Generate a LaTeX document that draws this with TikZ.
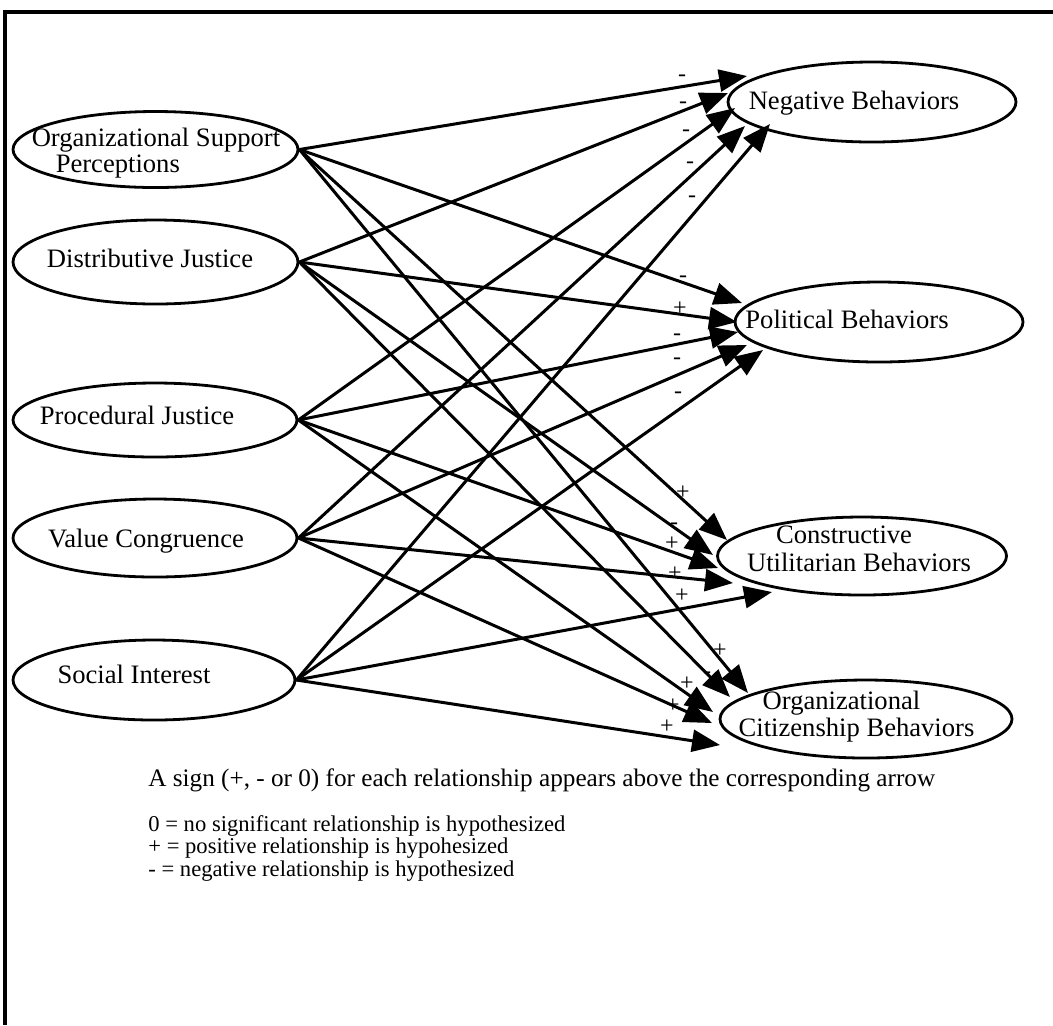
\documentclass[tikz,border=0pt]{standalone}
\usepackage{fontspec}
\setmainfont{Liberation Serif}
\usetikzlibrary{shapes.geometric,arrows.meta}
\begin{document}
\begin{tikzpicture}[x=0.5pt,y=-0.5pt,
  box/.style={ellipse,draw,line width=1.4pt,inner sep=0pt},
  lbl/.style={font=\fontsize{13.3pt}{10.5pt}\selectfont,inner sep=0pt,text height=0.7em,text depth=0.2em},
  sg/.style={font=\fontsize{12pt}{12pt}\selectfont,inner sep=0pt,text height=0.7em,text depth=0.2em},
  arr/.style={line width=1.5pt,-{Triangle[length=14pt,width=11pt]}},
  note/.style={font=\fontsize{12.6pt}{10pt}\selectfont,inner sep=0pt,anchor=west,text height=0.7em,text depth=0.2em}]

\useasboundingbox (0,0) rectangle (1053,1025);
\draw[line width=2pt] (1053,12) -- (5,12) -- (5,1025);

% left nodes
\node[box,minimum width=142.5pt,minimum height=38pt] (osp) at (155.5,149.5) {};
\node[box,minimum width=142.5pt,minimum height=42pt] (dj) at (155.5,262) {};
\node[box,minimum width=142pt,minimum height=37pt] (pj) at (155,420) {};
\node[box,minimum width=142pt,minimum height=39pt] (vc) at (155,538) {};
\node[box,minimum width=141pt,minimum height=40pt] (si) at (154,680) {};

\node[lbl,align=left,text height=,text depth=] (ospt) at (156,153) {Organizational Support\\\hspace*{12pt}Perceptions};
\node[lbl] (djt) at (150,262) {Distributive Justice};
\node[lbl] (pjt) at (137,419) {Procedural Justice};
\node[lbl] (vct) at (146,542) {Value Congruence};
\node[lbl] (sit) at (134,678) {Social Interest};

% right nodes
\node[box,minimum width=144pt,minimum height=40pt] (nb) at (872,102) {};
\node[box,minimum width=144pt,minimum height=40pt] (pb) at (879,322) {};
\node[box,minimum width=144.5pt,minimum height=39pt] (cub) at (862,556) {};
\node[box,minimum width=146pt,minimum height=39pt] (ocb) at (866,719) {};

\node[lbl] (nbt) at (854,104) {Negative Behaviors};
\node[lbl] (pbt) at (847,323) {Political Behaviors};
\node[lbl,align=left,text height=,text depth=,font=\fontsize{13.3pt}{14pt}\selectfont] (cubt) at (859,549)
  {\hspace*{14.5pt}Constructive\\Utilitarian Behaviors};
\node[lbl,align=left,text height=,text depth=,font=\fontsize{13.3pt}{11.5pt}\selectfont] (ocbt) at (856.5,716.5)
  {\hspace*{12pt}Organizational\\Citizenship Behaviors};

% arrow tips
\coordinate (osp-nb) at (747,76);
\coordinate (osp-pb) at (742,303);
\coordinate (osp-cub) at (727,540);
\coordinate (osp-ocb) at (748,693);
\coordinate (dj-nb) at (728,93);
\coordinate (dj-pb) at (737,322);
\coordinate (dj-cub) at (713,555);
\coordinate (dj-ocb) at (730,697);
\coordinate (pj-nb) at (735,108);
\coordinate (pj-pb) at (738,332);
\coordinate (pj-cub) at (718,568);
\coordinate (pj-ocb) at (713,712);
\coordinate (vc-nb) at (745,126);
\coordinate (vc-pb) at (747,345);
\coordinate (vc-cub) at (733,583);
\coordinate (vc-ocb) at (712,723);
\coordinate (si-nb) at (770,124);
\coordinate (si-pb) at (763,350);
\coordinate (si-cub) at (772,592);
\coordinate (si-ocb) at (720,745);

\foreach \s in {osp,dj,pj,vc,si}{
  \foreach \t in {nb,pb,cub,ocb}{
    \draw[arr] (\s.east) -- (\s-\t);
  }
}

% signs
\node[sg] (s1) at (682,76) {-};
\node[sg] (s2) at (683,103) {-};
\node[sg] (s3) at (686,131) {-};
\node[sg] (s4) at (690,163) {-};
\node[sg] (s5) at (692,197) {-};
\node[sg] (s6) at (683,277) {-};
\node[sg] (s7) at (680,310) {+};
\node[sg] (s8) at (677,335) {-};
\node[sg] (s9) at (677,359) {-};
\node[sg] (s10) at (678,393) {-};
\node[sg] (s11) at (683,494) {+};
\node[sg] (s12) at (674,524) {-};
\node[sg] (s13) at (672,545) {+};
\node[sg] (s14) at (675,575) {+};
\node[sg] (s15) at (682,597) {+};
\node[sg] (s16) at (720,652) {+};
\node[sg] (s17) at (707,673) {-};
\node[sg] (s18) at (687,685) {+};
\node[sg] (s19) at (673,707) {+};
\node[sg] (s20) at (667,728) {+};

% notes
\node[note] (cap) at (148,781) {A sign (+, - or 0) for each relationship appears above the corresponding arrow};
\node[font=\fontsize{11.3pt}{10pt}\selectfont,inner sep=0pt,anchor=north west,align=left] (legend) at (148,815)
  {0 = no significant relationship is hypothesized\\
   + = positive relationship is hypohesized\\
   - = negative relationship is hypothesized};
\end{tikzpicture}
\end{document}
